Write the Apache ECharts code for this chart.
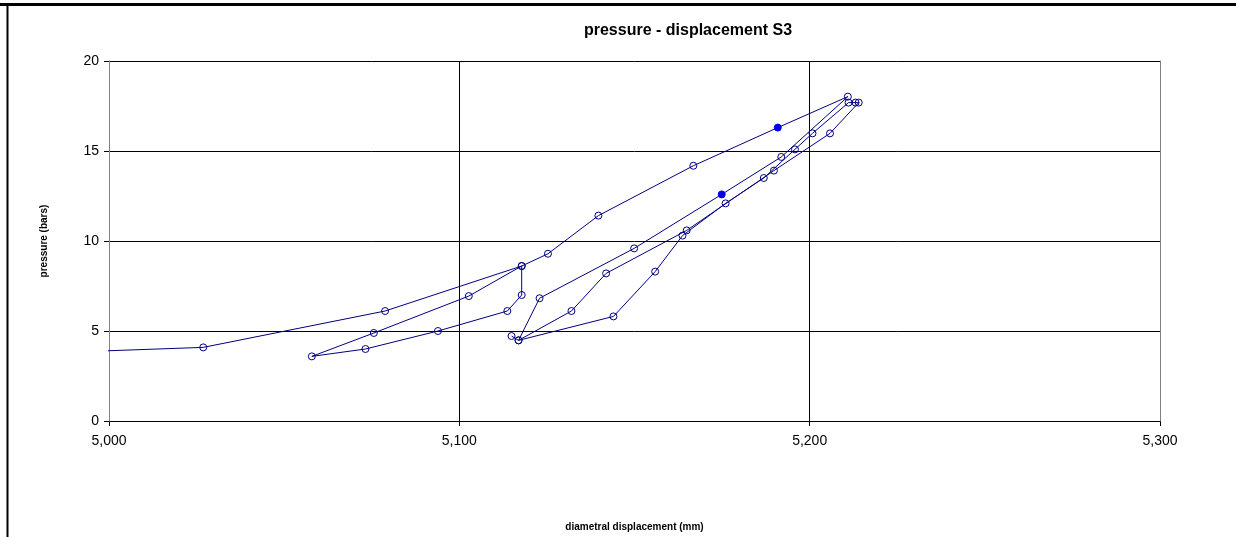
<!DOCTYPE html>
<html>
<head>
<meta charset="utf-8">
<script src="https://cdn.jsdelivr.net/npm/echarts@6/dist/echarts.min.js"></script>
<style>
  html, body { margin: 0; padding: 0; background: #fff; }
  #chart { width: 1236px; height: 537px; }
</style>
</head>
<body>
<div id="chart"></div>
<script>
// readings in test order (diametral displacement, pressure)
const displacement = [
  4985, 5026.9, 5078.8, 5117.8, 5102.7, 5075.6, 5057.9, 5073.2, 5093.9, 5113.7,
  5117.8, 5117.8, 5125.3, 5139.7, 5166.8, 5190.9, 5210.9,
  5191.9, 5174.9, 5149.9, 5122.9, 5116.9,
  5132.0, 5141.9, 5164.9, 5189.8, 5205.8, 5214.0, 5213.1, 5211.1,
  5200.8, 5195.8, 5186.9, 5176.0, 5163.7, 5155.9, 5144.0, 5116.9, 5114.9,
];
const pressure = [
  3.8, 4.09, 6.11, 8.61, 6.94, 4.89, 3.59, 4.0, 5.0, 6.11,
  7.0, 8.61, 9.29, 11.41, 14.18, 16.3, 18.02,
  14.67, 12.59, 9.59, 6.82, 4.48,
  6.11, 8.2, 10.59, 13.91, 15.98, 17.69, 17.69, 17.69,
  15.98, 15.09, 13.5, 12.09, 10.3, 8.3, 5.81, 4.48, 4.72,
];
// points drawn with a solid marker
const solidPoints = [15, 18];

const xTicks = [5000, 5100, 5200, 5300];
const yTicks = [0, 5, 10, 15, 20];

const navy = "#000080";
const font = "Liberation Sans, Arial, sans-serif";

const chart = echarts.init(document.getElementById("chart"));

const points = displacement.map((x, i) => {
  const item = { value: [x, pressure[i]] };
  if (solidPoints.includes(i)) {
    item.itemStyle = { color: "#0000ee", borderColor: "#0000ee" };
  }
  return item;
});

chart.setOption({
  backgroundColor: "#fff",
  animation: false,
  title: {
    text: "pressure - displacement S3",
    left: 683,
    top: 18,
    textAlign: "center",
    textStyle: { fontFamily: font, fontSize: 16, fontWeight: "bold", color: "#000" },
  },
  grid: { left: 109, top: 61, right: 76, bottom: 116 },
  xAxis: {
    type: "value",
    min: xTicks[0],
    max: xTicks[xTicks.length - 1],
    interval: 100,
    name: "diametral displacement (mm)",
    nameLocation: "middle",
    nameGap: 101,
    nameTextStyle: { fontFamily: font, fontSize: 10, fontWeight: "bold", color: "#000" },
    axisLine: { lineStyle: { color: "#000", width: 1 } },
    axisTick: { length: 5, lineStyle: { color: "#000" } },
    axisLabel: {
      fontFamily: font,
      fontSize: 14,
      color: "#000",
      margin: 13,
      formatter: (v) => v.toLocaleString("en-US"),
    },
    splitLine: { show: true, lineStyle: { color: "#000", width: 1 } },
  },
  yAxis: [
    {
      type: "value",
      min: yTicks[0],
      max: yTicks[yTicks.length - 1],
      interval: 5,
      z: 3,
      name: "pressure (bars)",
      nameLocation: "middle",
      nameGap: 60,
      nameTextStyle: { fontFamily: font, fontSize: 10, fontWeight: "bold", color: "#000" },
      axisLine: { show: true, lineStyle: { color: "#808080", width: 1 } },
      axisTick: { show: true, length: 5, lineStyle: { color: "#000" } },
      axisLabel: { fontFamily: font, fontSize: 14, color: "#000", margin: 10 },
      splitLine: { show: true, lineStyle: { color: "#000", width: 1 } },
    },
    {
      type: "value",
      position: "right",
      min: yTicks[0],
      max: yTicks[yTicks.length - 1],
      interval: 5,
      z: 3,
      axisLine: { show: true, lineStyle: { color: "#808080", width: 1 } },
      axisTick: { show: false },
      axisLabel: { show: false },
      splitLine: { show: false },
    },
  ],
  graphic: [
    { type: "line", shape: { x1: 0, y1: 4.5, x2: 1236, y2: 4.5 }, style: { stroke: "#000", lineWidth: 3 }, z: 10 },
    { type: "line", shape: { x1: 7.5, y1: 4, x2: 7.5, y2: 537 }, style: { stroke: "#000", lineWidth: 2 }, z: 10 },
  ],
  series: [
    {
      type: "line",
      data: points,
      clip: true,
      z: 5,
      symbol: "circle",
      symbolSize: 7,
      showAllSymbol: true,
      lineStyle: { color: navy, width: 1 },
      itemStyle: { color: "rgba(255,255,255,0)", borderColor: navy, borderWidth: 1 },
    },
  ],
});
</script>
</body>
</html>
